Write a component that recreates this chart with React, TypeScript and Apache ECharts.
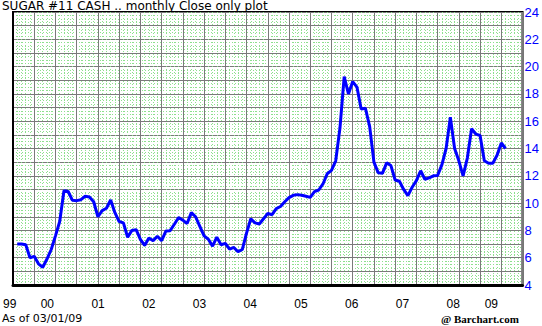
import React, { useEffect, useRef } from "react";
import * as echarts from "echarts";

// Monthly close, Jul 1999 .. Feb 2009 (cents/lb)
const closeValues = [
  7.0, 7.0, 6.95, 6.0, 6.1, 5.55, 5.3, 5.9, 6.6, 7.6,
  8.65, 10.9, 10.85, 10.2, 10.18, 10.25, 10.5, 10.45, 10.1, 9.0,
  9.45, 9.62, 10.23, 9.3, 8.65, 8.55, 7.5, 8.0, 8.05, 7.35,
  6.9, 7.45, 7.25, 7.57, 7.25, 7.95, 7.98, 8.45, 8.95, 8.75,
  8.5, 9.3, 9.0, 8.3, 7.6, 7.35, 6.85, 7.5, 6.95, 7.05,
  6.62, 6.75, 6.44, 6.6, 7.8, 8.85, 8.55, 8.47, 8.85, 9.25,
  9.15, 9.6, 9.75, 10.1, 10.4, 10.57, 10.62, 10.57, 10.5, 10.42,
  10.84, 10.96, 11.4, 12.15, 12.4, 13.1, 15.5, 19.26, 18.0, 18.9,
  18.5, 16.9, 16.95, 15.6, 13.0, 12.23, 12.18, 12.95, 12.75, 11.69,
  11.6, 11.0, 10.55, 11.16, 11.65, 12.37, 11.75, 11.85, 12.0, 12.03,
  12.8, 14.0, 16.3, 14.0, 13.1, 12.0, 13.3, 15.45, 15.05, 14.95,
  13.1, 12.92, 12.92, 13.5, 14.4, 14.0,
];

// x position of each month: 1 = Jul 1999
const monthIndex = closeValues.map((_, i) => i + 1);

const yearLabels = ["99", "00", "01", "02", "03", "04", "05", "06", "07", "08", "09"];
const yearLabelPos = [-1.9, 7, 19, 31, 43, 55, 67, 79, 91, 103, 112];

const yMin = 4;
const yMax = 24;

const titleText = "SUGAR #11 CASH .. monthly Close only plot";
const asOfText = "As of 03/01/09";
const creditText = "@ Barchart.com";

export default function App() {
  const ref = useRef<HTMLDivElement>(null);

  useEffect(() => {
    if (!ref.current) return;
    const chart = echarts.init(ref.current, null, { renderer: "svg" });
    const gridLeft = 13;
    const gridRight = 17;
    const plotW = 542 - gridLeft - gridRight;
    const xMax = 120;
    const ppm = plotW / xMax;

    chart.setOption({
      animation: false,
      backgroundColor: "#ffffff",
      grid: [
        {
          left: gridLeft,
          right: gridRight,
          top: 12,
          bottom: 41,
          show: true,
          borderColor: "#000",
          borderWidth: 2,
          backgroundColor: "transparent",
        },
        { left: 0, right: 0, top: 284, height: 1, show: false },
      ],
      xAxis: [
        {
          type: "value",
          gridIndex: 0,
          min: 0,
          max: xMax,
          interval: 5,
          axisLine: { show: true, lineStyle: { color: "#000", width: 3 } },
          axisTick: { show: false },
          axisLabel: { show: false },
          splitLine: { show: true, lineStyle: { color: "#7a7a7a", width: 1 } },
          minorTick: { show: false, splitNumber: 5 },
          minorSplitLine: { show: true, lineStyle: { color: "#8ee08e", width: 1, type: [1, 2] } },
        },
        {
          type: "value",
          gridIndex: 1,
          min: -gridLeft / ppm,
          max: xMax + gridRight / ppm,
          axisLine: { show: false },
          axisTick: { show: false },
          splitLine: { show: false },
          axisLabel: {
            show: true,
            customValues: yearLabelPos,
            margin: 13,
            color: "#000",
            fontSize: 12,
            fontFamily: "Liberation Sans",
            formatter: (v: number) => {
              let best = 0;
              yearLabelPos.forEach((p, i) => {
                if (Math.abs(p - v) < Math.abs(yearLabelPos[best] - v)) best = i;
              });
              return yearLabels[best];
            },
          },
        },
      ],
      yAxis: [
        {
          type: "value",
          gridIndex: 0,
          position: "right",
          min: yMin,
          max: yMax,
          interval: 1,
          axisLine: { show: true, lineStyle: { color: "#000", width: 2 } },
          axisTick: { show: false },
          axisLabel: {
            show: true,
            margin: 2,
            color: "#0000ff",
            fontSize: 13,
            fontFamily: "Liberation Sans",
            formatter: (v: number) => (Math.round(v) % 2 === 0 ? String(v) : ""),
          },
          splitLine: { show: true, lineStyle: { color: "#7a7a7a", width: 1 } },
          minorTick: { show: false, splitNumber: 4 },
          minorSplitLine: { show: true, lineStyle: { color: "#8ee08e", width: 1, type: [1, 2] } },
        },
        { type: "value", gridIndex: 1, show: false },
      ],
      series: [
        {
          type: "line",
          xAxisIndex: 0,
          yAxisIndex: 0,
          data: closeValues.map((v, i) => [monthIndex[i], v]),
          showSymbol: false,
          symbol: "none",
          lineStyle: { color: "#0000ff", width: 3 },
          z: 5,
        },
      ],
      graphic: [
        {
          type: "text",
          left: 2,
          top: 0,
          style: { text: titleText, fill: "#000", font: "12px 'DejaVu Sans'" },
        },
        {
          type: "text",
          left: 2,
          top: 313,
          style: { text: asOfText, fill: "#000", font: "11px 'DejaVu Sans'" },
        },
        {
          type: "text",
          left: 441,
          top: 313,
          style: { text: creditText, fill: "#000", font: "bold 11px 'Liberation Serif'" },
        },
      ],
    });
    return () => chart.dispose();
  }, []);

  return (
    <div
      ref={ref}
      style={{ position: "absolute", left: 0, top: 0, width: 542, height: 326 }}
    />
  );
}
